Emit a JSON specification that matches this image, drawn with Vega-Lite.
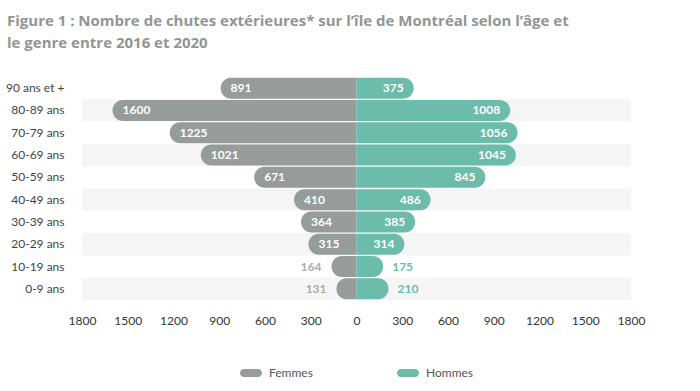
{
  "$schema": "https://vega.github.io/schema/vega-lite/v6.json",
  "width": 549,
  "height": 223,
  "autosize": {"type": "none"},
  "padding": {"left": 82, "top": 77, "right": 69, "bottom": 91},
  "background": "white",
  "title": {
    "text": ["Figure 1 : Nombre de chutes extérieures* sur l’île de Montréal selon l’âge et", "le genre entre 2016 et 2020"],
    "anchor": "start",
    "frame": "group",
    "dx": -75,
    "offset": 26,
    "font": "Open Sans",
    "fontSize": 15,
    "fontWeight": "bold",
    "color": "#909694",
    "lineHeight": 22
  },
  "config": {"view": {"stroke": null}, "font": "Lato"},
  "datasets": {
    "falls": [
      {"age": "90 ans et +", "sexe": "Femmes", "value": 891},
      {"age": "80-89 ans", "sexe": "Femmes", "value": 1600},
      {"age": "70-79 ans", "sexe": "Femmes", "value": 1225},
      {"age": "60-69 ans", "sexe": "Femmes", "value": 1021},
      {"age": "50-59 ans", "sexe": "Femmes", "value": 671},
      {"age": "40-49 ans", "sexe": "Femmes", "value": 410},
      {"age": "30-39 ans", "sexe": "Femmes", "value": 364},
      {"age": "20-29 ans", "sexe": "Femmes", "value": 315},
      {"age": "10-19 ans", "sexe": "Femmes", "value": 164},
      {"age": "0-9 ans", "sexe": "Femmes", "value": 131},
      {"age": "90 ans et +", "sexe": "Hommes", "value": 375},
      {"age": "80-89 ans", "sexe": "Hommes", "value": 1008},
      {"age": "70-79 ans", "sexe": "Hommes", "value": 1056},
      {"age": "60-69 ans", "sexe": "Hommes", "value": 1045},
      {"age": "50-59 ans", "sexe": "Hommes", "value": 845},
      {"age": "40-49 ans", "sexe": "Hommes", "value": 486},
      {"age": "30-39 ans", "sexe": "Hommes", "value": 385},
      {"age": "20-29 ans", "sexe": "Hommes", "value": 314},
      {"age": "10-19 ans", "sexe": "Hommes", "value": 175},
      {"age": "0-9 ans", "sexe": "Hommes", "value": 210}
    ],
    "stripes": [
      {"age": "80-89 ans"},
      {"age": "60-69 ans"},
      {"age": "40-49 ans"},
      {"age": "20-29 ans"},
      {"age": "0-9 ans"}
    ]
  },
  "encoding": {
    "y": {
      "field": "age",
      "type": "nominal",
      "sort": ["90 ans et +", "80-89 ans", "70-79 ans", "60-69 ans", "50-59 ans", "40-49 ans", "30-39 ans", "20-29 ans", "10-19 ans", "0-9 ans"],
      "scale": {"paddingInner": 0, "paddingOuter": 0},
      "axis": {
        "title": null,
        "domain": false,
        "ticks": false,
        "labelPadding": 18,
        "labelFont": "Lato",
        "labelFontSize": 12,
        "labelColor": "#444444"
      }
    }
  },
  "layer": [
    {
      "data": {"name": "stripes"},
      "mark": {"type": "bar", "color": "#f5f5f5", "height": {"band": 1}},
      "encoding": {
        "x": {"datum": -1800, "type": "quantitative"},
        "x2": {"datum": 1800}
      }
    },
    {
      "data": {"name": "falls"},
      "transform": [
        {"calculate": "datum.sexe === 'Femmes' ? -datum.value : datum.value", "as": "signed"}
      ],
      "encoding": {
        "x": {
          "field": "signed",
          "type": "quantitative",
          "scale": {"domain": [-1800, 1800], "nice": false},
          "axis": {
            "title": null,
            "values": [-1800, -1500, -1200, -900, -600, -300, 0, 300, 600, 900, 1200, 1500, 1800],
            "labelExpr": "format(abs(datum.value), 'd')",
            "labelFlush": false,
            "labelOverlap": false,
            "grid": false,
            "domain": false,
            "ticks": false,
            "labelPadding": 15,
            "labelFont": "Lato",
            "labelFontSize": 12,
            "labelColor": "#333333"
          }
        }
      },
      "layer": [
        {
          "transform": [{"filter": "datum.sexe === 'Femmes'"}],
          "mark": {"type": "bar", "height": {"band": 0.94}, "cornerRadiusTopLeft": 11, "cornerRadiusBottomLeft": 11},
          "encoding": {
            "x2": {"datum": 0},
            "color": {
              "field": "sexe",
              "type": "nominal",
              "scale": {"domain": ["Femmes", "Hommes"], "range": ["#959c9a", "#6bbcaa"]},
              "legend": {
                "title": null,
                "orient": "none",
                "legendX": 158,
                "legendY": 285,
                "direction": "horizontal",
                "symbolType": "M-0.64,-0.36 L0.64,-0.36 A0.36,0.36 0 0 1 0.64,0.36 L-0.64,0.36 A0.36,0.36 0 0 1 -0.64,-0.36 Z",
                "symbolSize": 484,
                "symbolStrokeWidth": 0,
                "symbolOpacity": 1,
                "labelFont": "Lato",
                "labelFontSize": 12,
                "labelColor": "#555555",
                "labelOffset": 7,
                "columnPadding": 84
              }
            }
          }
        },
        {
          "transform": [{"filter": "datum.sexe === 'Hommes'"}],
          "mark": {"type": "bar", "height": {"band": 0.94}, "cornerRadiusTopRight": 11, "cornerRadiusBottomRight": 11},
          "encoding": {
            "x2": {"datum": 0},
            "color": {"field": "sexe", "type": "nominal"}
          }
        },
        {
          "transform": [{"filter": "datum.sexe === 'Femmes' && datum.value >= 250"}],
          "mark": {"type": "text", "align": "left", "dx": 10, "color": "white", "font": "Lato", "fontSize": 12, "fontWeight": "bold", "baseline": "middle"},
          "encoding": {"text": {"field": "value", "type": "quantitative", "format": "d"}}
        },
        {
          "transform": [{"filter": "datum.sexe === 'Femmes' && datum.value < 250"}],
          "mark": {"type": "text", "align": "right", "dx": -10, "color": "#a7adab", "font": "Lato", "fontSize": 12, "fontWeight": "bold", "baseline": "middle"},
          "encoding": {"text": {"field": "value", "type": "quantitative", "format": "d"}}
        },
        {
          "transform": [{"filter": "datum.sexe === 'Hommes' && datum.value >= 250"}],
          "mark": {"type": "text", "align": "right", "dx": -10, "color": "white", "font": "Lato", "fontSize": 12, "fontWeight": "bold", "baseline": "middle"},
          "encoding": {"text": {"field": "value", "type": "quantitative", "format": "d"}}
        },
        {
          "transform": [{"filter": "datum.sexe === 'Hommes' && datum.value < 250"}],
          "mark": {"type": "text", "align": "left", "dx": 9, "color": "#6bbcaa", "font": "Lato", "fontSize": 12, "fontWeight": "bold", "baseline": "middle"},
          "encoding": {"text": {"field": "value", "type": "quantitative", "format": "d"}}
        }
      ]
    }
  ]
}
